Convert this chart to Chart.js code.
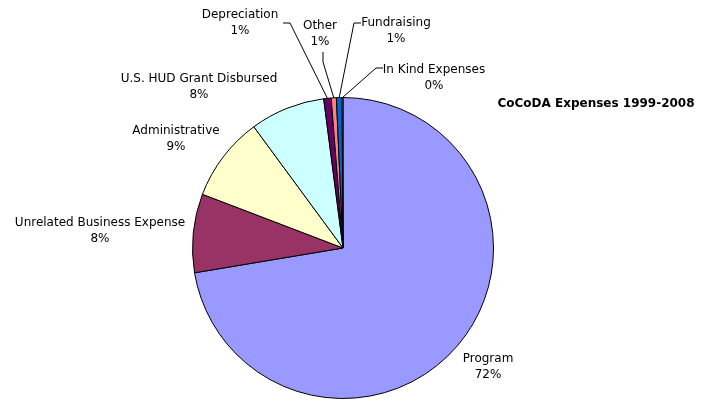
<!DOCTYPE html>
<html>
<head>
<meta charset="utf-8">
<script src="https://cdn.jsdelivr.net/npm/chart.js@4.4.1/dist/chart.umd.min.js"></script>
<style>
  html, body { margin: 0; padding: 0; background: #fff; }
  #wrap { position: relative; width: 708px; height: 400px; }
</style>
</head>
<body>
<div id="wrap"><canvas id="pie" width="708" height="400"></canvas></div>
<script>
// Expense categories, in the order the slices run clockwise from 12 o'clock
const categories = [
    'Program',
    'Unrelated Business Expense',
    'Administrative',
    'U.S. HUD Grant Disbursed',
    'Depreciation',
    'Other',
    'Fundraising',
    'In Kind Expenses'
];
// share of total expenses, percent
const expenseShare = [72.4, 8.45, 9.1, 8.05, 0.8, 0.55, 0.6, 0.1];
const sliceColors = ['#9999FF', '#993366', '#FFFFCC', '#CCFFFF', '#660066', '#FF8080', '#0066CC', '#CCCCFF'];
const chartTitle = 'CoCoDA Expenses 1999-2008';

// where each label sits (text centre) and the bend of its leader line, if any
const labelLayout = [
    { x: 488, y: 359 },
    { x: 100, y: 223 },
    { x: 176, y: 131 },
    { x: 199, y: 79 },
    { x: 240, y: 15, bend: [290, 23], end: [283, 23] },
    { x: 320, y: 26, bend: [323, 62], end: [323, 52] },
    { x: 396, y: 23, bend: [354, 23], end: [361, 23] },
    { x: 434, y: 70, bend: [376, 68], end: [383, 68] }
];

const FONT = '12px "DejaVu Sans", Verdana, sans-serif';
const LINE_GAP = 16;

// draws category / percent labels, leader lines and the title
const pieLabels = {
    id: 'pieLabels',
    afterDatasetsDraw(chart) {
        const ctx = chart.ctx;
        const meta = chart.getDatasetMeta(0);
        const values = chart.data.datasets[0].data;
        const total = values.reduce((a, b) => a + b, 0);

        ctx.save();
        ctx.font = FONT;
        ctx.fillStyle = '#000';
        ctx.strokeStyle = '#000';
        ctx.lineWidth = 1;
        ctx.textAlign = 'center';
        ctx.textBaseline = 'middle';

        meta.data.forEach((arc, i) => {
            const lay = labelLayout[i];
            const pct = Math.round(values[i] / total * 100) + '%';

            if (lay.bend) {
                const mid = (arc.startAngle + arc.endAngle) / 2;
                const sx = arc.x + Math.cos(mid) * arc.outerRadius;
                const sy = arc.y + Math.sin(mid) * arc.outerRadius;
                ctx.beginPath();
                ctx.moveTo(sx, sy);
                ctx.lineTo(lay.bend[0], lay.bend[1]);
                ctx.lineTo(lay.end[0], lay.end[1]);
                ctx.stroke();
            }

            ctx.fillText(chart.data.labels[i], lay.x, lay.y);
            ctx.fillText(pct, lay.x, lay.y + LINE_GAP);
        });

        ctx.font = 'bold ' + FONT;
        ctx.fillText(chartTitle, 596, 104);
        ctx.restore();
    }
};

new Chart(document.getElementById('pie'), {
    type: 'pie',
    data: {
        labels: categories,
        datasets: [{
            data: expenseShare,
            backgroundColor: sliceColors,
            borderColor: '#000',
            borderWidth: 1
        }]
    },
    options: {
        responsive: false,
        animation: false,
        layout: {
            padding: { left: 192, right: 214, top: 97, bottom: 1 }
        },
        plugins: {
            legend: { display: false },
            tooltip: { enabled: false },
            title: { display: false }
        }
    },
    plugins: [pieLabels]
});
</script>
</body>
</html>
